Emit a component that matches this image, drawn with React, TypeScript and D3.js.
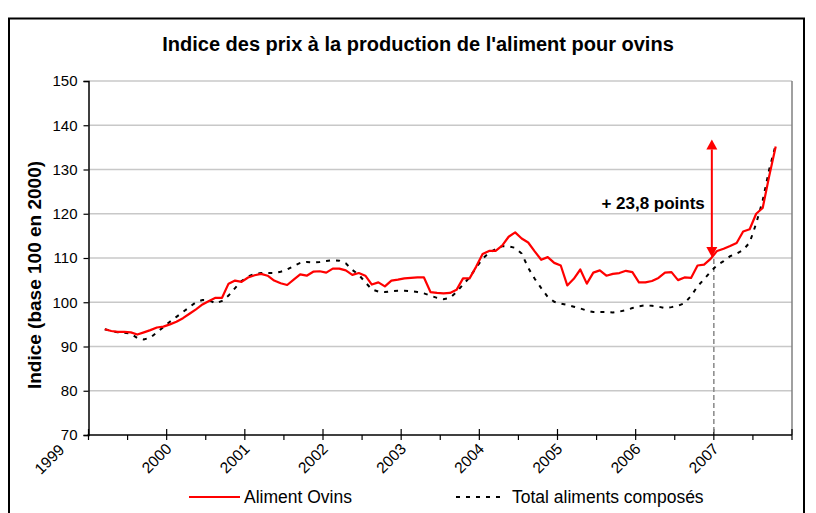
import React, { useEffect, useRef } from 'react';
import * as d3 from 'd3';

// Monthly categories, Jan 1999 .. Dec 2007; values start in March 1999
const yearLabels = ['1999', '2000', '2001', '2002', '2003', '2004', '2005', '2006', '2007'];
const monthCount = 108;
const firstMonth = 2;

const alimentOvins = [
    93.9, 93.5, 93.3, 93.3, 93.2,
    92.7, 93.2, 93.7, 94.3, 94.5,
    95.0, 95.6, 96.4, 97.4, 98.4,
    99.5, 100.3, 101.0, 101.0, 104.2,
    104.9, 104.6, 105.6, 106.1, 106.4,
    106.0, 104.9, 104.3, 103.9, 105.1,
    106.3, 106.0, 106.9, 107.0, 106.7,
    107.6, 107.6, 107.2, 106.2, 106.6,
    106.0, 104.0, 104.5, 103.6, 104.9,
    105.1, 105.4, 105.5, 105.6, 105.6,
    102.3, 102.1, 102.0, 102.1, 102.8,
    105.4, 105.4, 108.0, 110.9, 111.6,
    111.6, 112.8, 114.8, 115.8, 114.4,
    113.5, 111.5, 109.6, 110.2, 108.9,
    108.3, 103.8, 105.3, 107.4, 104.2,
    106.7, 107.2, 106.0, 106.4, 106.6,
    107.1, 106.8, 104.5, 104.5, 104.8,
    105.5, 106.7, 106.8, 105.0, 105.6,
    105.5, 108.3, 108.5, 109.8, 111.6,
    112.1, 112.7, 113.4, 116.0, 116.5,
    120.0, 121.3, 128.5, 135.2,
];

const totalAliments = [
    93.9, 93.5, 93.2, 93.1, 92.9,
    91.9, 91.6, 92.0, 93.2, 94.4,
    95.6, 96.7, 97.8, 98.9, 100.0,
    100.5, 100.5, 99.7, 100.3, 101.5,
    103.2, 104.8, 105.8, 106.4, 106.6,
    106.6, 106.6, 106.9, 107.4, 108.2,
    108.9, 109.1, 109.0, 109.1, 109.3,
    109.5, 109.4, 108.8, 107.3, 106.2,
    104.5, 102.9, 102.4, 102.3, 102.5,
    102.6, 102.6, 102.5, 102.3, 102.0,
    101.5, 101.0, 100.7, 101.0, 102.3,
    104.0, 105.6, 107.8, 109.8, 111.2,
    112.0, 112.7, 112.6, 112.3, 111.0,
    107.8, 105.3, 103.2, 101.2, 100.1,
    99.7, 99.4, 99.0, 98.6, 98.1,
    97.8, 97.8, 97.8, 97.7, 97.9,
    98.2, 98.7, 99.1, 99.3, 99.2,
    99.0, 98.7, 98.9, 99.2, 99.8,
    101.4, 103.6, 105.2, 106.9, 108.4,
    109.3, 110.4, 111.0, 111.8, 113.5,
    117.8, 123.0, 130.0, 135.6,
];

const yTicks = [70, 80, 90, 100, 110, 120, 130, 140, 150];

// arrow annotation (Jan 2007 -> latest)
const arrowMonth = 96;
const arrowFrom = 110.2;
const arrowTo = 136.8;
const arrowLabelAt = 121;
const arrowLabel = '+ 23,8 points';

const FONT = '"Liberation Sans", Arial, sans-serif';

const App: React.FC = () => {
    const svgRef = useRef<SVGSVGElement>(null);

    useEffect(() => {
        if (!svgRef.current) return;
        const width = 816;
        const height = 513;
        const plot = { left: 88.5, right: 792, top: 81, bottom: 435 };

        const svg = d3.select(svgRef.current);
        svg.selectAll('*').remove();
        svg.attr('width', width).attr('height', height).style('font-family', FONT);

        // Outer frame
        svg.append('rect')
            .attr('x', 9).attr('y', 18.5)
            .attr('width', 795).attr('height', 600)
            .attr('fill', '#fff').attr('stroke', '#000').attr('stroke-width', 2);

        const x = d3.scaleLinear().domain([0, monthCount]).range([plot.left, plot.right]);
        const y = d3.scaleLinear().domain([70, 150]).range([plot.bottom, plot.top]);

        // Title
        svg.append('text')
            .attr('x', 418).attr('y', 51)
            .attr('text-anchor', 'middle')
            .attr('font-weight', 'bold').attr('font-size', 20)
            .text("Indice des prix à la production de l'aliment pour ovins");

        // Grid
        svg.append('g').selectAll('line')
            .data(yTicks.filter(t => t > 70))
            .join('line')
            .attr('x1', plot.left).attr('x2', plot.right)
            .attr('y1', d => y(d)).attr('y2', d => y(d))
            .attr('stroke', '#c8c8c8').attr('stroke-width', 1.5);

        // right border of plot area
        svg.append('line')
            .attr('x1', plot.right).attr('x2', plot.right)
            .attr('y1', plot.top).attr('y2', plot.bottom)
            .attr('stroke', '#808080').attr('stroke-width', 1.5);

        // Y axis
        const yAxisG = svg.append('g').attr('transform', `translate(${plot.left},0)`);
        yAxisG.call(d3.axisLeft(y).tickValues(yTicks).tickSize(5).tickPadding(6) as any);
        yAxisG.select('.domain').attr('stroke-width', 1.5);
        yAxisG.selectAll('.tick line').attr('stroke-width', 1.2);
        yAxisG.selectAll('text')
            .attr('font-family', FONT).attr('font-size', 15).attr('fill', '#000');

        svg.append('text')
            .attr('transform', `translate(41,275) rotate(-90)`)
            .attr('text-anchor', 'middle')
            .attr('font-weight', 'bold').attr('font-size', 19)
            .text('Indice (base 100 en 2000)');

        // X axis
        svg.append('line')
            .attr('x1', plot.left - 1).attr('x2', plot.right)
            .attr('y1', plot.bottom).attr('y2', plot.bottom)
            .attr('stroke', '#000').attr('stroke-width', 1.5);

        svg.append('g').selectAll('line')
            .data(d3.range(0, monthCount + 1, 6))
            .join('line')
            .attr('x1', d => x(d)).attr('x2', d => x(d))
            .attr('y1', d => (d % 12 === 0 ? plot.bottom - 6 : plot.bottom))
            .attr('y2', plot.bottom + 5)
            .attr('stroke', '#000').attr('stroke-width', 1.2);

        // Year labels; the first one is pushed left of the axis corner
        svg.append('g').selectAll('text')
            .data(yearLabels)
            .join('text')
            .attr('transform', (d, i) => {
                const dx = i === 0 ? -27 : 2;
                const dy = i === 0 ? 12 : 11;
                return `translate(${x(i * 12) + dx},${plot.bottom + dy}) rotate(-45)`;
            })
            .attr('text-anchor', 'end')
            .attr('dy', '0.35em')
            .attr('font-size', 15.5)
            .text(d => d);

        // Dashed marker for Jan 2007
        svg.append('line')
            .attr('x1', x(arrowMonth)).attr('x2', x(arrowMonth))
            .attr('y1', y(arrowFrom) + 2).attr('y2', plot.bottom)
            .attr('stroke', '#888').attr('stroke-width', 1.5)
            .attr('stroke-dasharray', '5,3');

        // Series
        const lineGen = d3.line<number>()
            .x((d, i) => x(firstMonth + i + 0.5))
            .y(d => y(d));

        svg.append('path')
            .datum(totalAliments)
            .attr('d', lineGen)
            .attr('fill', 'none')
            .attr('stroke', '#000').attr('stroke-width', 2)
            .attr('stroke-dasharray', '4,6');

        svg.append('path')
            .datum(alimentOvins)
            .attr('d', lineGen)
            .attr('fill', 'none')
            .attr('stroke', '#ff0000').attr('stroke-width', 2.2)
            .attr('stroke-linejoin', 'round');

        // Arrow
        const ax = x(arrowMonth) - 2;
        const yTop = y(arrowTo);
        const yBot = y(arrowFrom);
        const head = 10;
        svg.append('line')
            .attr('x1', ax).attr('x2', ax)
            .attr('y1', yTop + head).attr('y2', yBot - head)
            .attr('stroke', '#ff0000').attr('stroke-width', 2);
        svg.append('path')
            .attr('d', `M${ax},${yTop} L${ax - 5.5},${yTop + head} L${ax + 5.5},${yTop + head} Z`)
            .attr('fill', '#ff0000');
        svg.append('path')
            .attr('d', `M${ax},${yBot} L${ax - 5.5},${yBot - head} L${ax + 5.5},${yBot - head} Z`)
            .attr('fill', '#ff0000');

        svg.append('text')
            .attr('x', ax - 7).attr('y', y(arrowLabelAt))
            .attr('text-anchor', 'end')
            .attr('font-weight', 'bold').attr('font-size', 17)
            .text(arrowLabel);

        // Legend
        const legend = svg.append('g');
        legend.append('line')
            .attr('x1', 189).attr('x2', 240).attr('y1', 497).attr('y2', 497)
            .attr('stroke', '#ff0000').attr('stroke-width', 2);
        legend.append('text')
            .attr('x', 244).attr('y', 503)
            .attr('font-size', 17.5)
            .text('Aliment Ovins');
        legend.append('line')
            .attr('x1', 456).attr('x2', 503).attr('y1', 497).attr('y2', 497)
            .attr('stroke', '#000').attr('stroke-width', 2)
            .attr('stroke-dasharray', '4,6');
        legend.append('text')
            .attr('x', 512).attr('y', 503)
            .attr('font-size', 17.5)
            .text('Total aliments composés');
    }, []);

    return (
        <div style={{ position: 'absolute', left: 0, top: 0, width: 816, height: 513, overflow: 'hidden' }}>
            <svg ref={svgRef} style={{ display: 'block' }} />
        </div>
    );
};

export default App;
